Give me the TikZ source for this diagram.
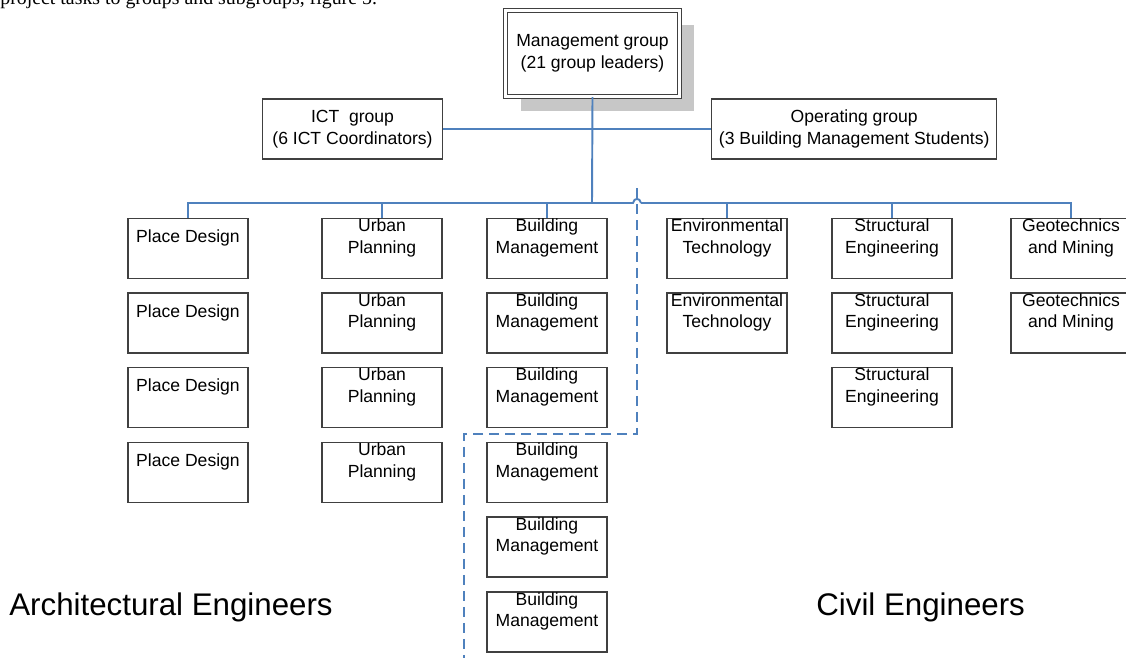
\documentclass[tikz,border=0pt]{standalone}
\usepackage{fontspec}
\setmainfont{Liberation Sans}
\newfontfamily\timesfont{Liberation Serif}
\usetikzlibrary{shadows}
\definecolor{linkblue}{RGB}{79,129,189}
\definecolor{boxgray}{RGB}{64,64,64}

\begin{document}
\begin{tikzpicture}[x=0.02cm,y=-0.02cm,
    unit/.style={draw=boxgray,line width=0.8pt,minimum width=2.4cm,minimum height=1.2cm,inner sep=0pt},
    unitlbl/.style={align=center,font=\fontsize{10}{12.3}\selectfont,inner sep=0pt,yshift=0.21cm},
    group/.style={draw=boxgray,fill=white,line width=0.8pt,minimum height=1.2cm,align=center,font=\fontsize{10}{12.3}\selectfont},
    conn/.style={draw=linkblue,line width=1.1pt},
    divide/.style={draw=linkblue,line width=1.1pt,dash pattern=on 0.2cm off 0.12cm},
    side/.style={font=\fontsize{17.8}{20}\selectfont,inner sep=0pt,anchor=base west}]
  \useasboundingbox (0,0) rectangle (1126,657);
  \node[anchor=base west,inner sep=0pt,font=\timesfont\fontsize{11.3}{13}\selectfont] (caption) at (0,4.5) {project tasks to groups and subgroups, figure 5.};
  \node[group,double,double distance=0.05cm,line width=0.6pt,minimum width=3.48cm,minimum height=1.72cm,
        drop shadow={shadow xshift=0.3cm,shadow yshift=-0.29cm,fill=black!22,opacity=1}] (mg) at (592.5,53.5) {Management group\\(21 group leaders)};
  \node[group,minimum width=3.6cm] (ict) at (352.5,129) {ICT~~group\\(6 ICT Coordinators)};
  \node[group,minimum width=5.7cm] (ops) at (854.2,129) {Operating group\\(3 Building Management Students)};
  \foreach \col/\x/\n/\txt in {pd/188/4/Place Design,up/382/4/Urban\\Planning,bm/547/6/Building\\Management,
                               et/727/2/Environmental\\Technology,se/892/3/Structural\\Engineering,gm/1071/2/Geotechnics\\and Mining}{
    \foreach \i in {1,...,\n}
      \node[unit,label={[unitlbl]center:\txt}] (\col\i) at (\x,{248.3+74.7*(\i-1)}) {};}
  \coordinate (bus) at (592,203);
  \coordinate (hopl) at (633,203);
  \coordinate (hopr) at (641,203);
  \draw[conn] (mg.south) -- (bus);
  \draw[conn] (ict.east) -- (ops.west);
  \foreach \col in {pd,up,bm}
    \draw[conn] (bus) -| (\col1.north);
  \draw[conn] (bus) -- (hopl) .. controls (634,197.5) and (640,197.5) .. (hopr);
  \foreach \col in {et,se,gm}
    \draw[conn] (hopr) -| (\col1.north);
  \coordinate (dtop) at (637,188);
  \coordinate (dturn) at (637,434);
  \coordinate (dcorner) at (464,434);
  \coordinate (dend) at (464,660);
  \draw[divide] (dtop) -- (dturn) -- (dcorner) -- (dend);
  \node[side] (arch) at (9,615) {Architectural Engineers};
  \node[side] (civil) at (816,615) {Civil Engineers};
\end{tikzpicture}
\end{document}
